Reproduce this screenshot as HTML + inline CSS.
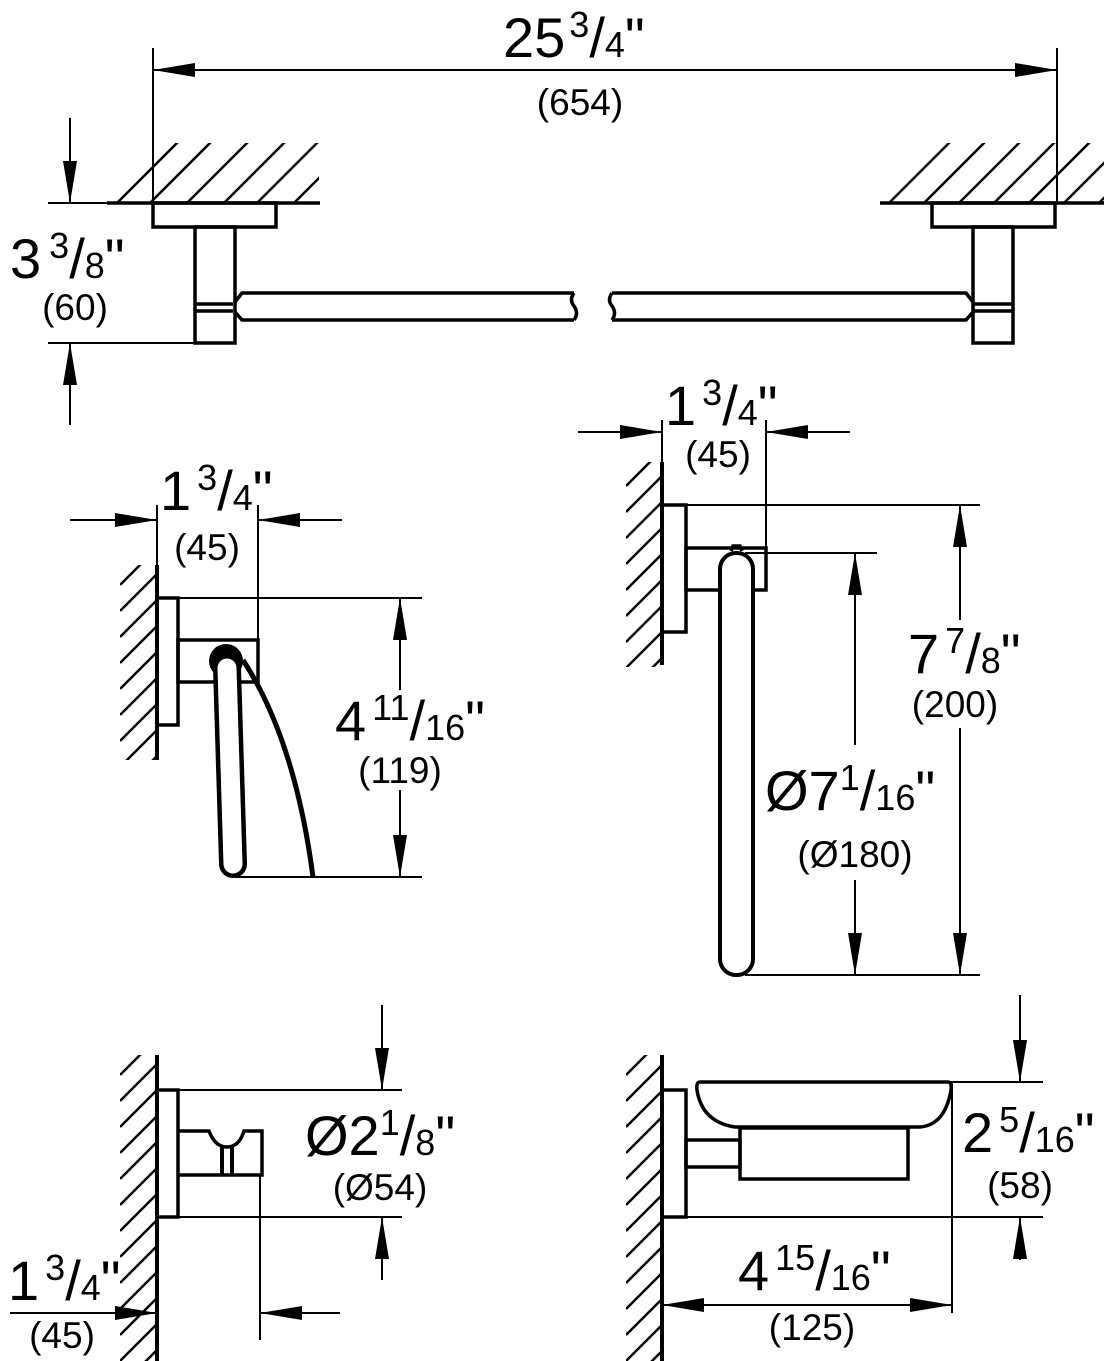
<!DOCTYPE html>
<html><head><meta charset="utf-8"><style>
html,body{margin:0;padding:0;background:#fff}
svg{display:block}
text{font-family:"Liberation Sans",sans-serif;fill:#000}
.b{font-size:56px}.s{font-size:36px}.p{font-size:37px}
.o{fill:none;stroke:#000;stroke-width:3.5}
.d{stroke:#000;stroke-width:2;fill:none}
.h{stroke:#000;stroke-width:2.5}
</style></head><body>
<svg width="1104" height="1361" viewBox="0 0 1104 1361" xmlns="http://www.w3.org/2000/svg">
<defs>
<marker id="a" viewBox="0 0 42 14" refX="42" refY="7" markerUnits="userSpaceOnUse" markerWidth="42" markerHeight="14" orient="auto-start-reverse"><path d="M0,0 L42,7 L0,14 z" fill="#000"/></marker>
<clipPath id="c1"><rect x="107" y="143" width="212" height="60"/></clipPath>
<clipPath id="c2"><rect x="880" y="143" width="224" height="60"/></clipPath>
<clipPath id="w1"><rect x="120" y="565" width="37" height="195"/></clipPath>
<clipPath id="w2"><rect x="626" y="462" width="36" height="205"/></clipPath>
<clipPath id="w3"><rect x="120" y="1055" width="37" height="306"/></clipPath>
<clipPath id="w4"><rect x="626" y="1055" width="36" height="306"/></clipPath>
</defs>

<g class="h" clip-path="url(#c1)">
<path d="M90,230 L190,130 M123,230 L223,130 M160,230 L260,130 M197,230 L297,130 M230,230 L330,130 M267,230 L367,130 M304,230 L404,130"/>
</g>
<g class="h" clip-path="url(#c2)">
<path d="M862,230 L962,130 M897,230 L997,130 M932,230 L1032,130 M967,230 L1067,130 M1002,230 L1102,130 M1037,230 L1137,130 M1072,230 L1172,130"/>
</g>
<g class="h" clip-path="url(#w1)">
<path d="M120,585 L160,545 M120,611 L160,571 M120,637 L160,597 M120,663 L160,623 M120,689 L160,649 M120,715 L160,675 M120,741 L160,701 M120,767 L160,727 M120,793 L160,753"/>
</g>
<g class="h" clip-path="url(#w2)">
<path d="M626,486 L666,446 M626,512 L666,472 M626,538 L666,498 M626,564 L666,524 M626,590 L666,550 M626,616 L666,576 M626,642 L666,602 M626,668 L666,628 M626,694 L666,654"/>
</g>
<g class="h" clip-path="url(#w3)">
<path d="M120,1075 L160,1035 M120,1101 L160,1061 M120,1127 L160,1087 M120,1153 L160,1113 M120,1179 L160,1139 M120,1205 L160,1165 M120,1231 L160,1191 M120,1257 L160,1217 M120,1283 L160,1243 M120,1309 L160,1269 M120,1335 L160,1295 M120,1361 L160,1321 M120,1387 L160,1347"/>
</g>
<g class="h" clip-path="url(#w4)">
<path d="M626,1075 L666,1035 M626,1101 L666,1061 M626,1127 L666,1087 M626,1153 L666,1113 M626,1179 L666,1139 M626,1205 L666,1165 M626,1231 L666,1191 M626,1257 L666,1217 M626,1283 L666,1243 M626,1309 L666,1269 M626,1335 L666,1295 M626,1361 L666,1321 M626,1387 L666,1347"/>
</g>

<line x1="107" y1="203" x2="320" y2="203" stroke="#000" stroke-width="3.5"/>
<line x1="880" y1="203" x2="1104" y2="203" stroke="#000" stroke-width="3.5"/>
<rect class="o" x="153" y="203" width="123" height="24"/>
<rect class="o" x="195" y="227" width="40" height="116"/>
<rect class="o" x="932" y="203" width="123" height="24"/>
<rect class="o" x="973" y="227" width="40" height="116"/>
<path class="o" d="M195,304 H233 M195,311 H233 M973,304 H1013 M973,311 H1013"/>
<path class="o" d="M235,302 L242,293 H574 M235,312 L242,320 H574 M574,293 q-5,7 0,13 q5,7 0,14"/>
<path class="o" d="M973,302 L966,293 H612 M973,312 L966,320 H612 M612,293 q-5,7 0,13 q5,7 0,14"/>

<path class="d" d="M153,48 V205 M1057,48 V205 M48,203 H153 M48,343 H195"/>
<line class="d" x1="153" y1="70" x2="1057" y2="70" marker-start="url(#a)" marker-end="url(#a)"/>
<line class="d" x1="70" y1="118" x2="70" y2="203" marker-end="url(#a)"/>
<line class="d" x1="70" y1="425" x2="70" y2="343" marker-end="url(#a)"/>
<text class="b" x="503" y="57">25<tspan class="s" dy="-20" dx="4">3</tspan><tspan dy="20">/</tspan><tspan class="s">4</tspan>"</text>
<text class="p" x="580" y="115" text-anchor="middle">(654)</text>
<text class="b" x="10" y="278">3<tspan class="s" dy="-20" dx="8">3</tspan><tspan dy="20">/</tspan><tspan class="s">8</tspan>"</text>
<text class="p" x="75" y="320" text-anchor="middle">(60)</text>

<line x1="157" y1="565" x2="157" y2="760" stroke="#000" stroke-width="4"/>
<rect class="o" x="157" y="598" width="21" height="127"/>
<rect class="o" x="178" y="640" width="80" height="42"/>
<path d="M243,660 Q295,740 313,877" fill="none" stroke="#000" stroke-width="5"/>
<circle cx="226" cy="661" r="17" fill="#000"/>
<line x1="227" y1="668" x2="233" y2="864" stroke="#000" stroke-width="28" stroke-linecap="round"/>
<line x1="227" y1="668" x2="233" y2="864" stroke="#fff" stroke-width="19" stroke-linecap="round"/>
<path class="d" d="M178,598 H422 M235,877 H422 M258,505 V640 M157,505 V565"/>
<line class="d" x1="70" y1="520" x2="157" y2="520" marker-end="url(#a)"/>
<line class="d" x1="342" y1="520" x2="258" y2="520" marker-end="url(#a)"/>
<line class="d" x1="400" y1="690" x2="400" y2="598" marker-end="url(#a)"/>
<line class="d" x1="400" y1="790" x2="400" y2="877" marker-end="url(#a)"/>
<text class="b" x="160" y="510">1<tspan class="s" dy="-20" dx="6">3</tspan><tspan dy="20">/</tspan><tspan class="s">4</tspan>"</text>
<text class="p" x="207" y="560" text-anchor="middle">(45)</text>
<text class="b" x="335" y="740">4<tspan class="s" dy="-20" dx="6">11</tspan><tspan dy="20">/</tspan><tspan class="s">16</tspan>"</text>
<text class="p" x="400" y="783" text-anchor="middle">(119)</text>

<line x1="662" y1="462" x2="662" y2="665" stroke="#000" stroke-width="4"/>
<rect class="o" x="662" y="505" width="24" height="127"/>
<rect class="o" x="686" y="548" width="80" height="42"/>
<rect x="720" y="553" width="33" height="422" rx="16" fill="#fff" stroke="#000" stroke-width="4"/>
<path class="o" d="M731,551 L733,546 H740 L742,551"/>
<path class="d" d="M686,505 H980 M745,553 H877 M745,975 H980 M662,420 V462 M766,420 V548"/>
<line class="d" x1="578" y1="432" x2="662" y2="432" marker-end="url(#a)"/>
<line class="d" x1="850" y1="432" x2="766" y2="432" marker-end="url(#a)"/>
<line class="d" x1="855" y1="745" x2="855" y2="553" marker-end="url(#a)"/>
<line class="d" x1="855" y1="880" x2="855" y2="975" marker-end="url(#a)"/>
<line class="d" x1="960" y1="620" x2="960" y2="505" marker-end="url(#a)"/>
<line class="d" x1="960" y1="728" x2="960" y2="975" marker-end="url(#a)"/>
<text class="b" x="665" y="425">1<tspan class="s" dy="-20" dx="6">3</tspan><tspan dy="20">/</tspan><tspan class="s">4</tspan>"</text>
<text class="p" x="718" y="467" text-anchor="middle">(45)</text>
<text class="b" x="908" y="673">7<tspan class="s" dy="-20" dx="6">7</tspan><tspan dy="20">/</tspan><tspan class="s">8</tspan>"</text>
<text class="p" x="955" y="717" text-anchor="middle">(200)</text>
<text class="b" x="765" y="810">Ø7<tspan class="s" dy="-20">1</tspan><tspan dy="20">/</tspan><tspan class="s">16</tspan>"</text>
<text class="p" x="855" y="867" text-anchor="middle">(Ø180)</text>

<line x1="157" y1="1055" x2="157" y2="1361" stroke="#000" stroke-width="4"/>
<rect class="o" x="157" y="1090" width="21" height="127"/>
<path class="o" d="M178,1131 H209 Q215,1147 227,1147 Q239,1147 244,1131 H262 V1175 H178"/>
<path d="M222,1147 V1175 M232,1147 V1175" stroke="#000" stroke-width="4"/>
<path class="d" d="M178,1090 H402 M178,1217 H402 M260,1175 V1340"/>
<line class="d" x1="382" y1="1005" x2="382" y2="1090" marker-end="url(#a)"/>
<line class="d" x1="382" y1="1280" x2="382" y2="1217" marker-end="url(#a)"/>
<line class="d" x1="10" y1="1313" x2="157" y2="1313" marker-end="url(#a)"/>
<line class="d" x1="340" y1="1313" x2="260" y2="1313" marker-end="url(#a)"/>
<text class="b" x="305" y="1155">Ø2<tspan class="s" dy="-20">1</tspan><tspan dy="20">/</tspan><tspan class="s">8</tspan>"</text>
<text class="p" x="380" y="1200" text-anchor="middle">(Ø54)</text>
<text class="b" x="8" y="1300">1<tspan class="s" dy="-20" dx="6">3</tspan><tspan dy="20">/</tspan><tspan class="s">4</tspan>"</text>
<text class="p" x="62" y="1348" text-anchor="middle">(45)</text>

<line x1="662" y1="1055" x2="662" y2="1361" stroke="#000" stroke-width="4"/>
<rect class="o" x="662" y="1090" width="24" height="127"/>
<rect class="o" x="686" y="1140" width="54" height="27"/>
<rect class="o" x="740" y="1128" width="168" height="51"/>
<path class="o" d="M700,1082 H948 Q952,1082 951,1090 Q945,1125 920,1127 H735 Q702,1122 697,1090 Q696,1082 700,1082 Z"/>
<path class="d" d="M950,1082 H1043 M686,1217 H1043 M952,1082 V1313"/>
<line class="d" x1="1020" y1="995" x2="1020" y2="1082" marker-end="url(#a)"/>
<line class="d" x1="1020" y1="1260" x2="1020" y2="1217" marker-end="url(#a)"/>
<line class="d" x1="662" y1="1305" x2="952" y2="1305" marker-start="url(#a)" marker-end="url(#a)"/>
<text class="b" x="962" y="1152">2<tspan class="s" dy="-20" dx="6">5</tspan><tspan dy="20">/</tspan><tspan class="s">16</tspan>"</text>
<text class="p" x="1020" y="1198" text-anchor="middle">(58)</text>
<text class="b" x="738" y="1290">4<tspan class="s" dy="-20" dx="6">15</tspan><tspan dy="20">/</tspan><tspan class="s">16</tspan>"</text>
<text class="p" x="812" y="1340" text-anchor="middle">(125)</text>
</svg>
</body></html>
